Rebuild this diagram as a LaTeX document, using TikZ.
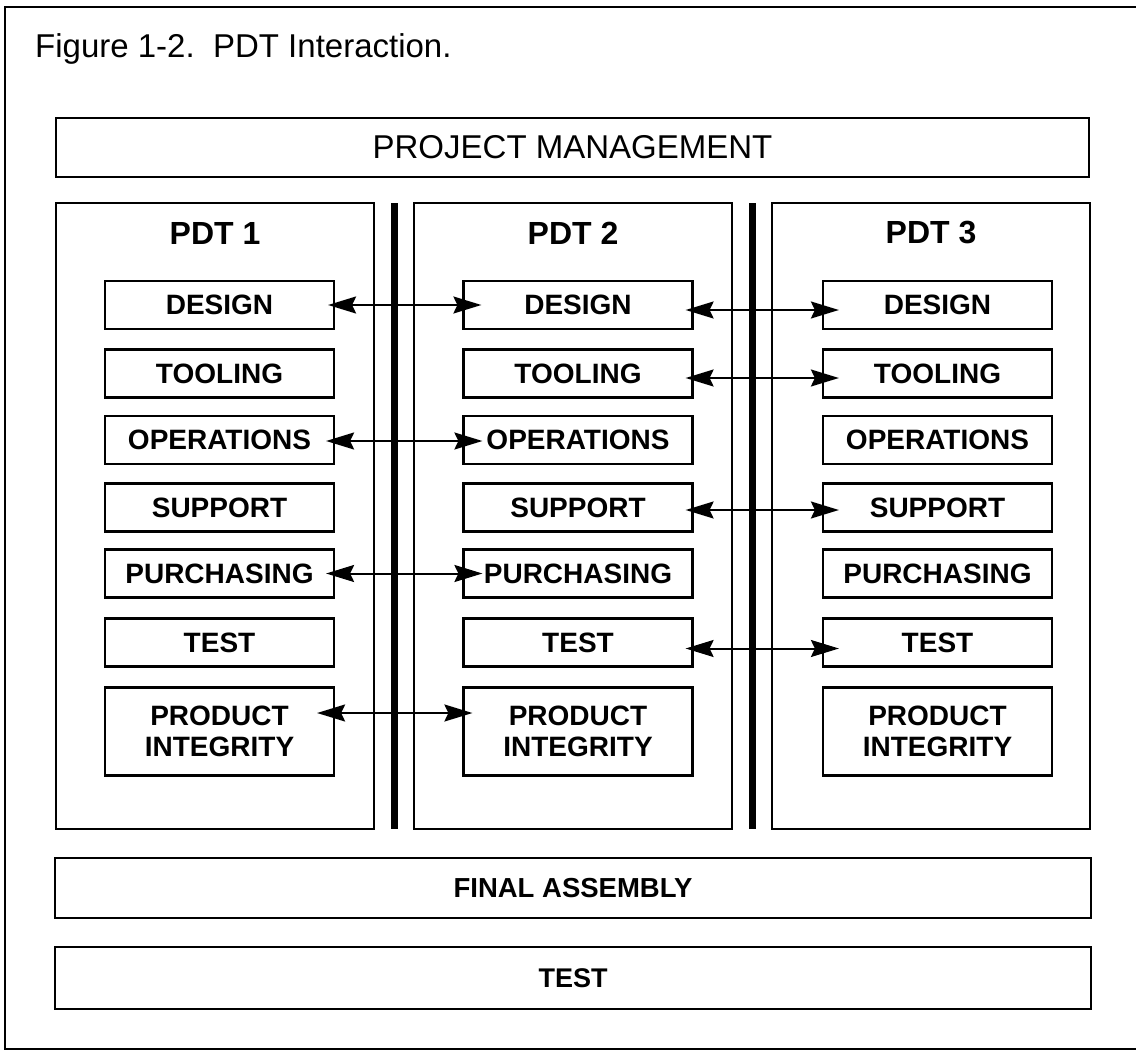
\documentclass[tikz,border=0pt]{standalone}
\usepackage{fontspec}
\setmainfont{Liberation Sans}
\usetikzlibrary{arrows.meta}
\begin{document}
\begin{tikzpicture}[x=1pt,y=-1pt,
  frame/.style={line width=2.4pt},
  band/.style={draw, line width=2.2pt, inner sep=0pt, minimum width=1035pt},
  pdtbox/.style={draw, line width=2.2pt, inner sep=0pt, minimum width=318pt, minimum height=626pt},
  pdttitle/.style={inner sep=0pt, font=\fontsize{32}{38}\selectfont\bfseries},
  unit/.style={draw, line width=2.2pt, inner sep=0pt, minimum width=229pt, minimum height=48pt,
    font=\fontsize{28}{33}\selectfont\bfseries, align=center},
  divider/.style={line width=7pt},
  tip/.tip={Stealth[length=28pt,width=17pt,inset=4pt]},
  link/.style={line width=2pt, tip-tip},
]
\useasboundingbox (0,0) rectangle (1136,1052);

% outer frame
\draw[frame] (1136,7) -- (5,7) -- (5,1049) -- (1136,1049);

% caption
\node[anchor=base west, inner sep=0pt, font=\fontsize{33}{40}\selectfont] (cap) at (35,57)
  {Figure 1-2.\ \ PDT Interaction.};

% project management band
\node[band, minimum width=1033pt, minimum height=59pt, font=\fontsize{33}{40}\selectfont]
  (pm) at (572.5,147.5) {PROJECT MANAGEMENT};

% team columns
\node[pdtbox] (p1) at (215,516) {};
\node[pdtbox] (p2) at (573,516) {};
\node[pdtbox] (p3) at (931,516) {};
\draw[divider] (394,203) -- (394,829);
\draw[divider] (752,203) -- (752,829);

\node[pdttitle] (h1) at (215,233) {PDT 1};
\node[pdttitle] (h2) at (573,233) {PDT 2};
\node[pdttitle] (h3) at (931,233) {PDT 3};

% PDT 1 functions
\node[unit] (d1)  at (219.5,305)   {DESIGN};
\node[unit] (t1)  at (219.5,373.5) {TOOLING};
\node[unit] (o1)  at (219.5,440)   {OPERATIONS};
\node[unit] (s1)  at (219.5,507.5) {SUPPORT};
\node[unit] (u1)  at (219.5,573.5) {PURCHASING};
\node[unit] (e1)  at (219.5,642.5) {TEST};
\node[unit, minimum height=88pt] (i1) at (219.5,731.5) {PRODUCT\\[-2pt]INTEGRITY};

% PDT 2 functions
\node[unit] (d2)  at (578,305)   {DESIGN};
\node[unit] (t2)  at (578,373.5) {TOOLING};
\node[unit] (o2)  at (578,440)   {OPERATIONS};
\node[unit] (s2)  at (578,507.5) {SUPPORT};
\node[unit] (u2)  at (578,573.5) {PURCHASING};
\node[unit] (e2)  at (578,642.5) {TEST};
\node[unit, minimum height=88pt] (i2) at (578,731.5) {PRODUCT\\[-2pt]INTEGRITY};

% PDT 3 functions
\node[unit] (d3)  at (937.5,305)   {DESIGN};
\node[unit] (t3)  at (937.5,373.5) {TOOLING};
\node[unit] (o3)  at (937.5,440)   {OPERATIONS};
\node[unit] (s3)  at (937.5,507.5) {SUPPORT};
\node[unit] (u3)  at (937.5,573.5) {PURCHASING};
\node[unit] (e3)  at (937.5,642.5) {TEST};
\node[unit, minimum height=88pt] (i3) at (937.5,731.5) {PRODUCT\\[-2pt]INTEGRITY};

% interactions between teams
\draw[link, shorten <=-7pt, shorten >=-19pt] (d1.east) -- (d2.west);
\draw[link, shorten <=-8pt, shorten >=-17pt] ([yshift=-5pt]d2.east) -- ([yshift=-5pt]d3.west);
\draw[link, shorten <=-8pt, shorten >=-17pt] ([yshift=-4.5pt]t2.east) -- ([yshift=-4.5pt]t3.west);
\draw[link, shorten <=-9pt, shorten >=-20pt] ([yshift=-1pt]o1.east) -- ([yshift=-1pt]o2.west);
\draw[link, shorten <=-8pt, shorten >=-17pt] ([yshift=-2.5pt]s2.east) -- ([yshift=-2.5pt]s3.west);
\draw[link, shorten <=-9pt, shorten >=-20pt] (u1.east) -- (u2.west);
\draw[link, shorten <=-8pt, shorten >=-17pt] ([yshift=-6pt]e2.east) -- ([yshift=-6pt]e3.west);
\draw[link, shorten <=-18pt, shorten >=-10pt] ([yshift=18.5pt]i1.east) -- ([yshift=18.5pt]i2.west);

% shared stages
\node[band, minimum width=1036pt, minimum height=60pt, font=\fontsize{27.5}{32}\selectfont\bfseries]
  (fa) at (573,888) {FINAL ASSEMBLY};
\node[band, minimum width=1036pt, minimum height=62pt, font=\fontsize{27}{32}\selectfont\bfseries]
  (ts) at (573,978) {TEST};
\end{tikzpicture}
\end{document}
